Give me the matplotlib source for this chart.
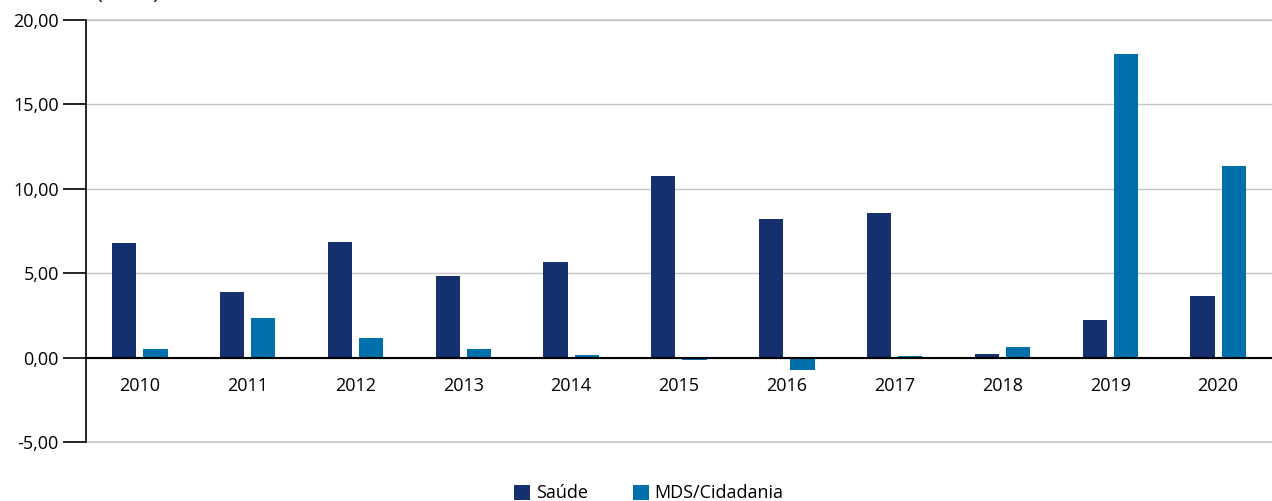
import matplotlib.pyplot as plt
import numpy as np
from matplotlib.ticker import FuncFormatter

plt.rcParams['font.family'] = ['Open Sans', 'DejaVu Sans']
plt.rcParams['font.size'] = 13

anos = ['2010', '2011', '2012', '2013', '2014', '2015', '2016', '2017', '2018', '2019', '2020']
saude = [6.80, 3.90, 6.86, 4.85, 5.68, 10.77, 8.22, 8.58, 0.20, 2.25, 3.67]
mds = [0.53, 2.37, 1.18, 0.53, 0.18, -0.12, -0.71, 0.12, 0.60, 17.99, 11.36]

cor_saude = '#14306f'
cor_mds = '#0070ad'

fig = plt.figure(figsize=(12.72, 5.01), dpi=100)
ax = fig.add_axes([0.0676, 0.1178, 0.9324, 0.8422])

x = np.arange(len(anos))
w = 0.225
ax.bar(x - 0.145, saude, w, color=cor_saude, label='Saúde', zorder=3)
ax.bar(x + 0.145, mds, w, color=cor_mds, label='MDS/Cidadania', zorder=3)

ax.set_xlim(-0.5, len(anos) - 0.5)
ax.set_ylim(-5, 20)
ax.set_yticks([-5, 0, 5, 10, 15, 20])
ax.yaxis.set_major_formatter(FuncFormatter(lambda v, p: f'{v:.2f}'.replace('.', ',')))
ax.grid(axis='y', color='#c6c6c6', linewidth=1, zorder=0)
ax.axhline(-5, color='#c6c6c6', linewidth=1.2, clip_on=False, zorder=0)
ax.axhline(20, color='#c6c6c6', linewidth=1.2, clip_on=False, zorder=0)
ax.tick_params(axis='y', length=16.5, width=1.2, color='black', pad=3)

ax.spines['top'].set_visible(False)
ax.spines['right'].set_visible(False)
ax.spines['left'].set_linewidth(1.2)
ax.spines['bottom'].set_position(('data', 0))
ax.spines['bottom'].set_linewidth(1.5)
ax.spines['bottom'].set_zorder(4)
ax.set_xticks(x)
ax.set_xticklabels(anos)
ax.tick_params(axis='x', length=0, pad=14)

# titulo do eixo, cortado na borda superior como no original
fig.text(128 / 1272, 1 + 1 / 501, '(em %)', ha='center', va='baseline', fontsize=14)

fig.legend(loc='lower center', bbox_to_anchor=(0.51, -0.035), ncol=2, frameon=False,
           handlelength=0.9, handleheight=0.9, handletextpad=0.3, columnspacing=2.5,
           fontsize=13)

plt.savefig('out.png', dpi=100)
